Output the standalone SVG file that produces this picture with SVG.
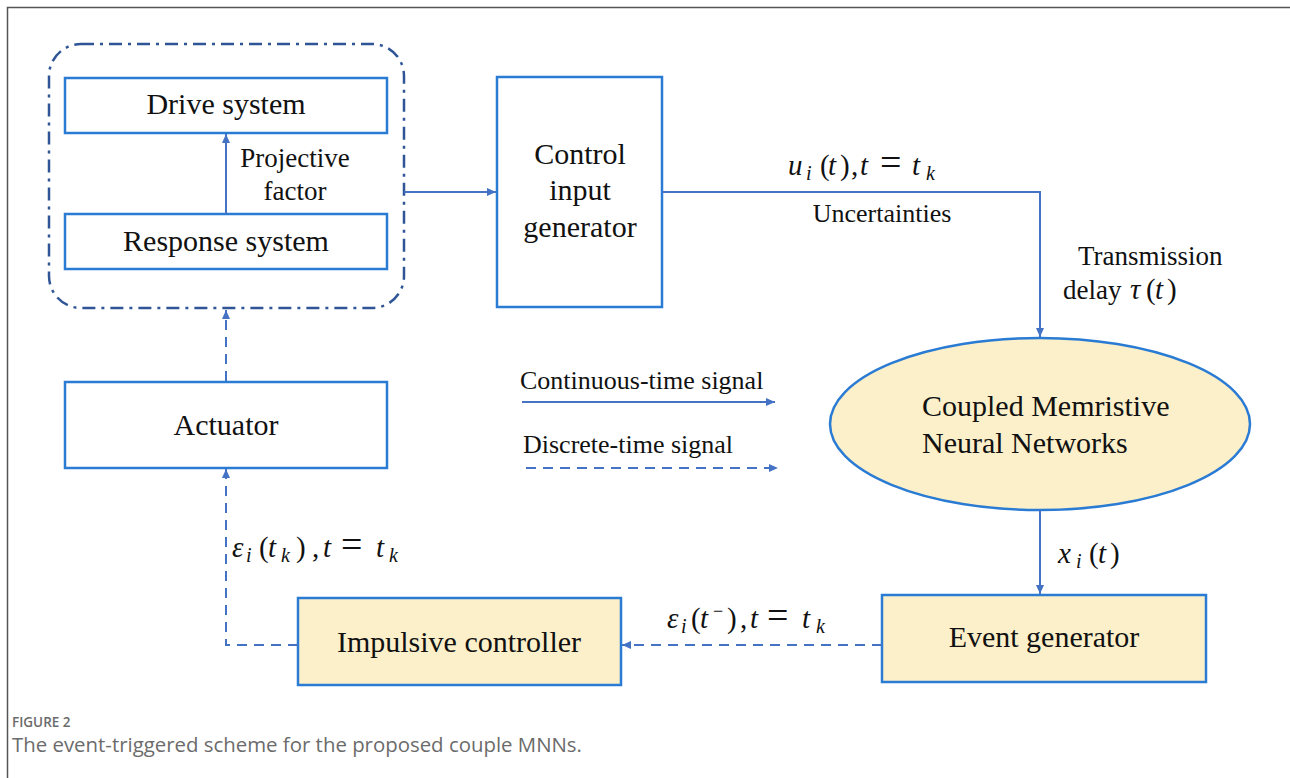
<svg xmlns="http://www.w3.org/2000/svg" width="1290" height="778" viewBox="0 0 1290 778">
  <style>
    .box { fill: #ffffff; stroke: #2a7bd3; stroke-width: 2.5; }
    .warm { fill: #fcf0ca; stroke: #2a7bd3; stroke-width: 2.5; }
    .lbl { font-family: "Liberation Serif", "Times New Roman", serif; fill: #111; }
    .math { font-family: "Liberation Serif", "Times New Roman", serif; fill: #111; font-size: 29px; }
    .it { font-style: italic; }
    .sub { font-style: italic; font-size: 20px; }
    .eq { font-size: 38px; }
    .wire { fill: none; stroke: #4472c4; stroke-width: 2; }
    .dash { stroke-dasharray: 10 7; }
    .cap { font-family: "Open Sans", "Noto Sans", sans-serif; fill: #6b6b6b; }
  </style>
  <defs>
    <marker id="tip" markerUnits="userSpaceOnUse" markerWidth="10" markerHeight="10" refX="9" refY="5" orient="auto">
      <path d="M0,1 L9,5 L0,9 Z" fill="#4472c4"/>
    </marker>
  </defs>

  <rect width="1290" height="778" fill="#ffffff"/>
  <!-- page frame -->
  <path d="M7.5,778 V7.5 H1290" fill="none" stroke="#555" stroke-width="1.5"/>

  <!-- drive/response enclosure -->
  <g id="sync-group">
    <rect x="49" y="44" width="355" height="264" rx="32" ry="32" fill="none" stroke="#2f5597" stroke-width="2.5" stroke-dasharray="13 6 3 6"/>
  </g>

  <g id="drive">
    <rect class="box" x="65" y="78" width="322" height="55"/>
    <text class="lbl" x="226" y="114" font-size="30" text-anchor="middle">Drive system</text>
  </g>

  <g id="response">
    <rect class="box" x="65" y="214" width="322" height="55"/>
    <text class="lbl" x="226" y="251" font-size="30" text-anchor="middle">Response system</text>
  </g>

  <g id="control">
    <rect class="box" x="497" y="77" width="165" height="230"/>
    <text class="lbl" x="580" y="164" font-size="30" text-anchor="middle">Control</text>
    <text class="lbl" x="580" y="200" font-size="30" text-anchor="middle">input</text>
    <text class="lbl" x="580" y="237" font-size="30" text-anchor="middle">generator</text>
  </g>

  <g id="actuator">
    <rect class="box" x="65" y="382" width="322" height="86"/>
    <text class="lbl" x="226" y="435" font-size="30" text-anchor="middle">Actuator</text>
  </g>

  <g id="mnn">
    <ellipse cx="1040" cy="424" rx="210" ry="86" fill="#fcf0ca" stroke="#2a7bd3" stroke-width="2.5"/>
    <text class="lbl" x="922" y="416" font-size="30">Coupled Memristive</text>
    <text class="lbl" x="922" y="453" font-size="30">Neural Networks</text>
  </g>

  <g id="event-generator">
    <rect class="warm" x="882" y="595" width="324" height="87"/>
    <text class="lbl" x="1044" y="647" font-size="30" text-anchor="middle">Event generator</text>
  </g>

  <g id="impulsive-controller">
    <rect class="warm" x="298" y="598" width="323" height="87"/>
    <text class="lbl" x="459" y="652" font-size="30" text-anchor="middle">Impulsive controller</text>
  </g>

  <g id="legend">
    <text class="lbl" x="520" y="389" font-size="26">Continuous-time signal</text>
    <path class="wire" d="M522,402 H775" marker-end="url(#tip)"/>
    <text class="lbl" x="523" y="453" font-size="26">Discrete-time signal</text>
    <path class="wire dash" d="M526,468 H778" marker-end="url(#tip)"/>
  </g>

  <g id="connectors">
    <!-- response to drive -->
    <path class="wire" d="M226,214 V134" marker-end="url(#tip)"/>
    <!-- enclosure to control input generator -->
    <path class="wire" d="M404,192 H496" marker-end="url(#tip)"/>
    <!-- control input to the network -->
    <path class="wire" d="M662,192 H1040 V337" marker-end="url(#tip)"/>
    <!-- network state to event generator -->
    <path class="wire" d="M1040,510 V594" marker-end="url(#tip)"/>
    <!-- event generator to impulsive controller -->
    <path class="wire dash" d="M882,645 H622" marker-end="url(#tip)"/>
    <!-- impulsive controller to actuator -->
    <path class="wire dash" d="M298,645 H226 V469" marker-end="url(#tip)"/>
    <!-- actuator to enclosure -->
    <path class="wire dash" d="M226,381 V310" marker-end="url(#tip)"/>
  </g>

  <g id="labels">
    <text class="lbl" x="295" y="167" font-size="27" text-anchor="middle">Projective</text>
    <text class="lbl" x="295" y="200" font-size="27" text-anchor="middle">factor</text>
    <text class="lbl" x="882" y="222" font-size="26" text-anchor="middle">Uncertainties</text>
    <text class="lbl" x="1078" y="265" font-size="27">Transmission</text>
    <text class="lbl" x="1063" y="299" font-size="27">delay</text>

    <!-- u_i(t), t = t_k -->
    <text class="math" y="175"><tspan class="it" x="788">u</tspan><tspan class="sub" x="806" dy="5">i</tspan><tspan x="820" dy="-5">(</tspan><tspan class="it" x="828">t</tspan><tspan x="840">)</tspan><tspan x="851">,</tspan><tspan class="it" x="860">t</tspan><tspan class="eq" x="880">=</tspan><tspan class="it" x="912">t</tspan><tspan class="sub" x="926" dy="5">k</tspan></text>

    <!-- tau(t) -->
    <text class="math" y="299"><tspan class="it" x="1130">τ</tspan><tspan x="1146">(</tspan><tspan class="it" x="1155">t</tspan><tspan x="1167">)</tspan></text>

    <!-- x_i(t) -->
    <text class="math" y="563"><tspan class="it" x="1058">x</tspan><tspan class="sub" x="1076" dy="5">i</tspan><tspan x="1089" dy="-5">(</tspan><tspan class="it" x="1098">t</tspan><tspan x="1110">)</tspan></text>

    <!-- eps_i(t^-), t = t_k -->
    <text class="math" y="628"><tspan class="it" x="667">ε</tspan><tspan class="sub" x="681" dy="5">i</tspan><tspan x="691" dy="-5">(</tspan><tspan class="it" x="700">t</tspan><tspan x="713" dy="-11" font-size="18">−</tspan><tspan x="727" dy="11">)</tspan><tspan x="740">,</tspan><tspan class="it" x="750">t</tspan><tspan class="eq" x="767">=</tspan><tspan class="it" x="802">t</tspan><tspan class="sub" x="816" dy="5">k</tspan></text>

    <!-- eps_i(t_k), t = t_k -->
    <text class="math" y="557"><tspan class="it" x="232">ε</tspan><tspan class="sub" x="246" dy="5">i</tspan><tspan x="259" dy="-5">(</tspan><tspan class="it" x="268">t</tspan><tspan class="sub" x="281" dy="5">k</tspan><tspan x="296" dy="-5">)</tspan><tspan x="312">,</tspan><tspan class="it" x="323">t</tspan><tspan class="eq" x="341">=</tspan><tspan class="it" x="376">t</tspan><tspan class="sub" x="389" dy="5">k</tspan></text>
  </g>

  <g id="caption">
    <text class="cap" x="12" y="727" font-size="13.5" font-weight="600">FIGURE 2</text>
    <text class="cap" x="12" y="752" font-size="20.4">The event-triggered scheme for the proposed couple MNNs.</text>
  </g>
</svg>
